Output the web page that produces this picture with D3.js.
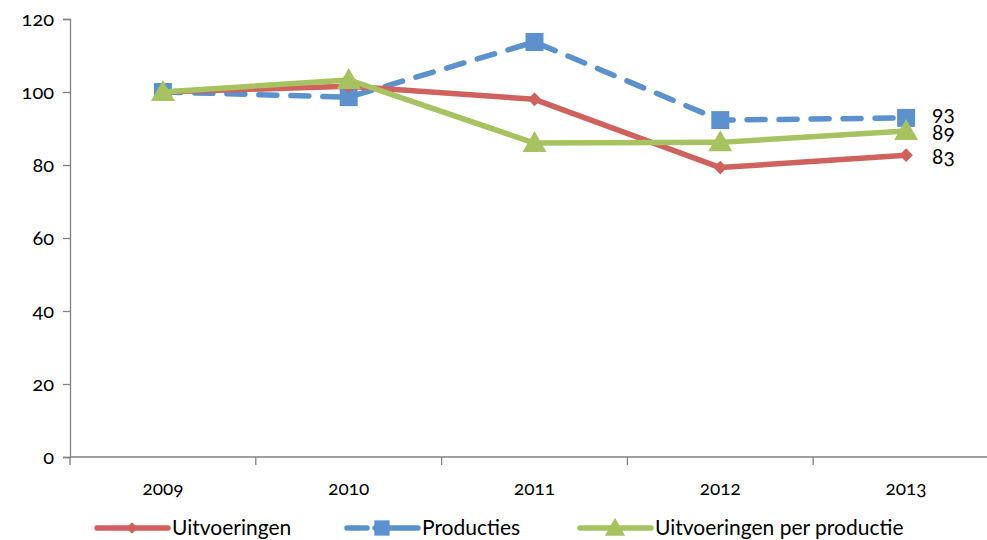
<!DOCTYPE html>
<html>
<head>
<meta charset="utf-8">
<script src="https://cdn.jsdelivr.net/npm/d3@7"></script>
<style>
  body { margin: 0; background: #fff; }
  svg text { font-family: Lato, "Open Sans", sans-serif; font-feature-settings: "onum"; fill: #000; }
</style>
</head>
<body>
<svg id="chart" width="987" height="540"></svg>
<script>
// chart data
var years = ["2009", "2010", "2011", "2012", "2013"];
var uitvoeringen = [100, 101.6, 98, 79.3, 82.7];
var producties = [100, 98.6, 113.7, 92.3, 92.9];
var perProductie = [100, 103.3, 86, 86.2, 89.3];
var endLabels = ["83", "93", "89"];
var yTicks = [0, 20, 40, 60, 80, 100, 120];

var series = [
  {name: "Uitvoeringen", values: uitvoeringen, color: "#CF625D", marker: "diamond", dash: null},
  {name: "Producties", values: producties, color: "#5B92CE", marker: "square", dash: "18,14"},
  {name: "Uitvoeringen per productie", values: perProductie, color: "#A6C261", marker: "triangle", dash: null}
];

var svg = d3.select("#chart");
var padLeft = 70, padTop = 19, axisY = 457;
var band = 185.8;

var x = d3.scaleBand().domain(years).range([padLeft, padLeft + band * years.length]);
var y = d3.scaleLinear().domain([0, 120]).range([axisY, padTop]);

// y axis
var yAxis = svg.append("g").attr("transform", "translate(" + padLeft + ",0)")
  .call(d3.axisLeft(y).tickValues(yTicks).tickSize(7).tickPadding(9));
yAxis.selectAll("text").style("font-size", "20px");

// x axis
var xAxis = svg.append("g").attr("transform", "translate(0," + axisY + ")")
  .call(d3.axisBottom(x).tickSize(0).tickPadding(25));
xAxis.select(".domain").remove();
xAxis.selectAll("text").style("font-size", "19px");
svg.append("line").attr("x1", padLeft).attr("x2", 987).attr("y1", axisY).attr("y2", axisY)
  .attr("stroke", "#808080").attr("stroke-width", 1.3);
svg.selectAll(".xtick").data(d3.range(years.length + 1)).enter().append("line")
  .attr("x1", function(i){ return padLeft + i * band; })
  .attr("x2", function(i){ return padLeft + i * band; })
  .attr("y1", axisY).attr("y2", axisY + 8)
  .attr("stroke", "#808080").attr("stroke-width", 1.3);
svg.selectAll(".domain, .tick line").attr("stroke", "#808080").attr("stroke-width", 1.3);

var cx = function(i){ return x(years[i]) + x.bandwidth() / 2; };

function markerPath(type) {
  if (type == "diamond") return d3.symbol().type(d3.symbolDiamond2).size(120)();
  if (type == "square") return "M-9,-9L9,-9L9,9L-9,9Z";
  return "M0,-12L12,9L-12,9Z";
}

var line = d3.line().x(function(d, i){ return cx(i); }).y(function(d){ return y(d); });

// draw in order: producties, uitvoeringen, per productie (green on top)
[1, 0, 2].forEach(function(k){
  var s = series[k];
  var g = svg.append("g");
  g.append("path").attr("d", line(s.values))
    .attr("fill", "none").attr("stroke", s.color).attr("stroke-width", 5.5)
    .attr("stroke-linecap", s.dash ? "round" : "butt")
    .attr("stroke-linejoin", "round")
    .attr("stroke-dasharray", s.dash);
  g.selectAll("path.m").data(s.values).enter().append("path").attr("class", "m")
    .attr("d", markerPath(s.marker))
    .attr("transform", function(d, i){ return "translate(" + cx(i) + "," + y(d) + ")"; })
    .attr("fill", s.color);
});

// end labels
var last = years.length - 1;
var labelY = [164, 121, 140];
series.forEach(function(s, k){
  svg.append("text").attr("x", cx(last) + 26).attr("y", labelY[k])
    .style("font-size", "21px").text(endLabels[k]);
});

// legend
var legX = [97, 347, 580];
var leg = svg.selectAll(".leg").data(series).enter().append("g")
  .attr("transform", function(d, i){ return "translate(" + legX[i] + ",528)"; });
leg.append("line").attr("x1", 0).attr("x2", 71).attr("y1", 0).attr("y2", 0)
  .attr("stroke", function(d){ return d.color; }).attr("stroke-width", 5.5)
  .attr("stroke-linecap", "round")
  .attr("stroke-dasharray", function(d){ return d.dash ? "20,8,43" : null; });
leg.append("path").attr("d", function(d){ return markerPath(d.marker); })
  .attr("transform", "translate(35,0) scale(0.85)")
  .attr("fill", function(d){ return d.color; });
leg.append("text").attr("x", 75).attr("y", 7).style("font-size", "21px")
  .text(function(d){ return d.name; });
</script>
</body>
</html>
